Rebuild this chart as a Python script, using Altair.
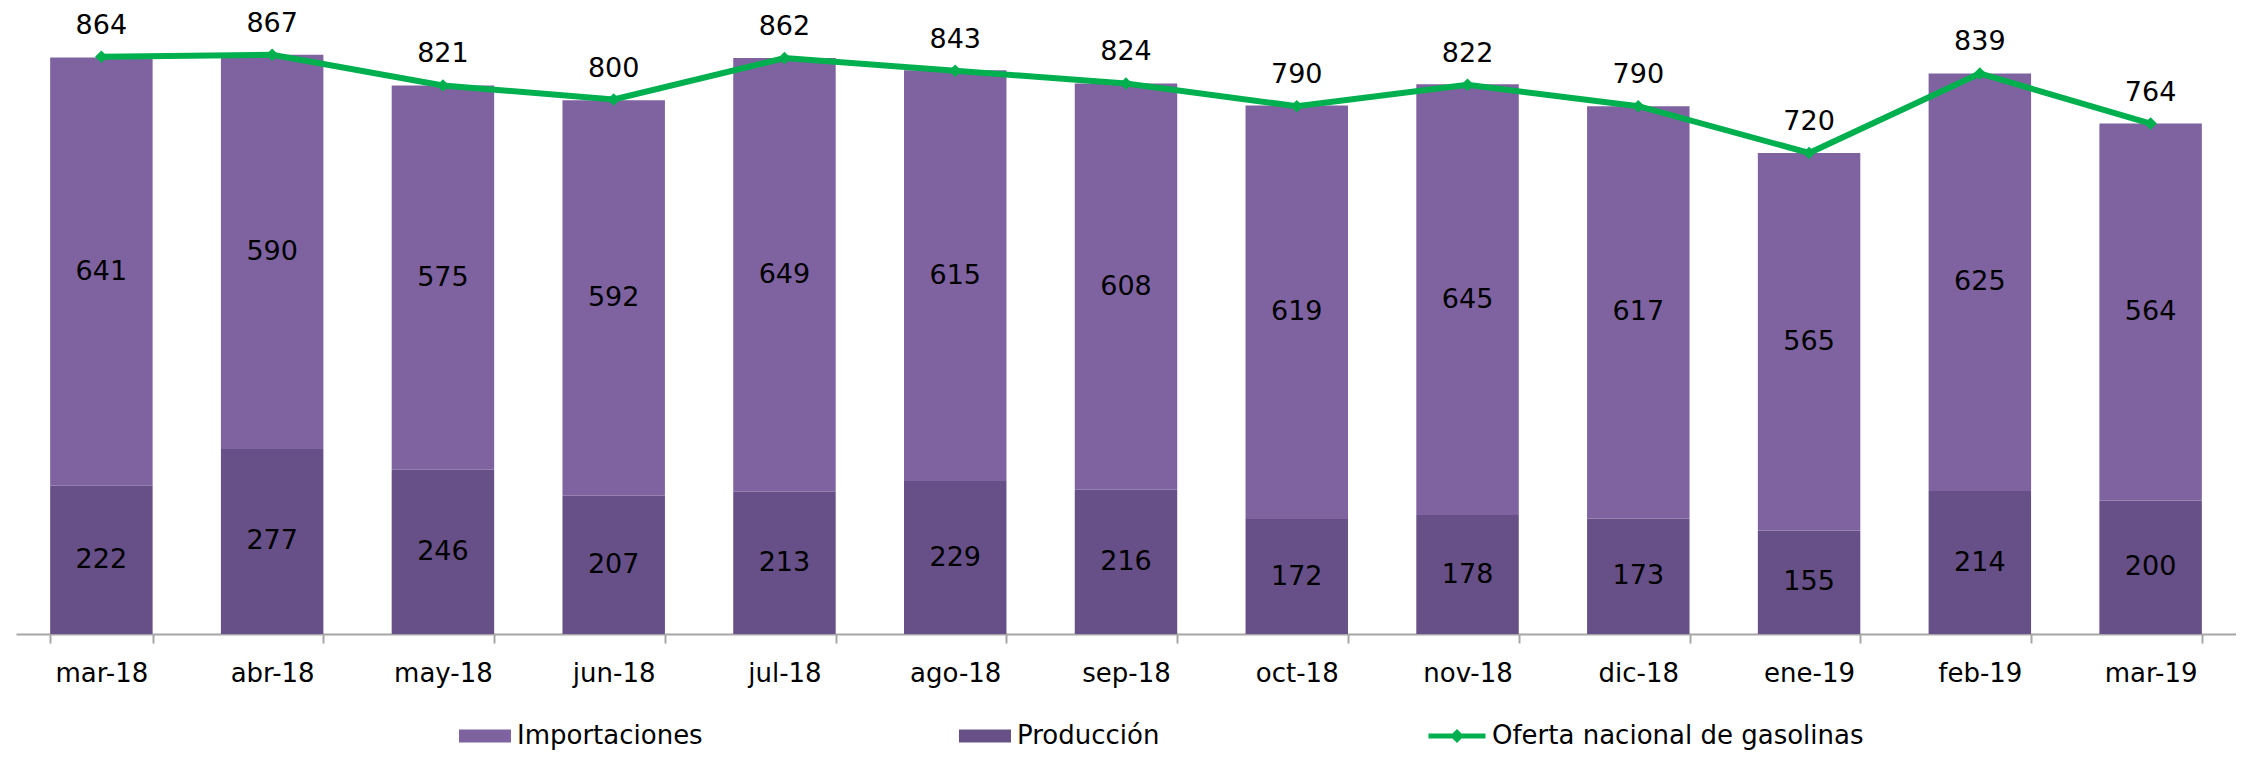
import altair as alt
import pandas as pd

meses = ["mar-18", "abr-18", "may-18", "jun-18", "jul-18", "ago-18", "sep-18",
         "oct-18", "nov-18", "dic-18", "ene-19", "feb-19", "mar-19"]
importaciones = [641, 590, 575, 592, 649, 615, 608, 619, 645, 617, 565, 625, 564]
produccion = [222, 277, 246, 207, 213, 229, 216, 172, 178, 173, 155, 214, 200]
oferta = [864, 867, 821, 800, 862, 843, 824, 790, 822, 790, 720, 839, 764]

series = ["Importaciones", "Producción"]
colores_barras = ["#7F63A0", "#674F87"]
nombre_linea = "Oferta nacional de gasolinas"
color_linea = "#00B04F"

n = len(meses)
bars_df = pd.DataFrame({
    "mes": meses * 2,
    "serie": ["Producción"] * n + ["Importaciones"] * n,
    "orden": [0] * n + [1] * n,
    "valor": produccion + importaciones,
})
line_df = pd.DataFrame({"mes": meses, "valor": oferta, "serie": [nombre_linea] * n})

FONT = "DejaVu Sans"

x = alt.X(
    "mes:N", sort=meses, title=None,
    scale=alt.Scale(paddingInner=0.4, paddingOuter=0.2),
    axis=alt.Axis(labelAngle=0, labelFont=FONT, labelFontSize=26, labelColor="#000000",
                  labelPadding=17, domainColor="#A6A6A6", domainWidth=2,
                  tickColor="#A6A6A6", tickWidth=2, tickSize=9, tickBand="extent",
                  grid=False),
)
y_scale = alt.Scale(domain=[0, 937], nice=False, zero=True)

stacked = (
    alt.Chart(bars_df)
    .transform_stack(stack="valor", groupby=["mes"], as_=["v0", "v1"],
                     sort=[alt.SortField("orden", order="ascending")])
    .transform_calculate(mid="(datum.v0 + datum.v1) / 2")
)

bars = stacked.mark_bar().encode(
    x=x,
    y=alt.Y("v0:Q", scale=y_scale, axis=None),
    y2="v1:Q",
    color=alt.Color(
        "serie:N",
        scale=alt.Scale(domain=series, range=colores_barras),
        legend=alt.Legend(
            title=None, orient="none", legendX=443, legendY=702,
            direction="horizontal", columnPadding=256,
            symbolType="M-1,-0.25L1,-0.25L1,0.25L-1,0.25Z", symbolSize=2704,
            symbolStrokeWidth=0, labelFont=FONT, labelFontSize=26,
            labelColor="#000000", labelOffset=6, labelLimit=0,
        ),
    ),
)

bar_text = stacked.mark_text(font=FONT, fontSize=27, color="#000000", baseline="middle").encode(
    x=x,
    y=alt.Y("mid:Q", scale=y_scale, axis=None),
    text="valor:Q",
)

line = alt.Chart(line_df).mark_line(strokeWidth=6).encode(
    x=x,
    y=alt.Y("valor:Q", scale=y_scale, axis=None),
    stroke=alt.Stroke(
        "serie:N",
        scale=alt.Scale(domain=[nombre_linea], range=[color_linea]),
        legend=alt.Legend(
            title=None, orient="none", legendX=1410, legendY=697,
            direction="horizontal",
            symbolType="M-1,0L1,0M-0.12,0L0,-0.12L0.12,0L0,0.12Z", symbolSize=3249,
            symbolStrokeWidth=5, symbolStrokeColor=color_linea,
            labelFont=FONT, labelFontSize=26,
            labelColor="#000000", labelOffset=4, labelLimit=0,
        ),
    ),
)

points = alt.Chart(line_df).mark_point(shape="diamond", filled=True, size=160,
                                       color=color_linea, opacity=1).encode(
    x=x,
    y=alt.Y("valor:Q", scale=y_scale, axis=None),
)

line_text = alt.Chart(line_df).mark_text(font=FONT, fontSize=27, color="#000000",
                                         baseline="middle", dy=-31).encode(
    x=x,
    y=alt.Y("valor:Q", scale=y_scale, axis=None),
    text="valor:Q",
)

chart = (
    alt.layer(bars, bar_text, line, points, line_text)
    .properties(
        width=2220, height=626,
        autosize=alt.AutoSizeParams(type="none"),
        padding={"left": 8, "top": 0, "right": 0, "bottom": 119},
        background="#FFFFFF",
    )
    .configure_view(stroke=None)
)

chart.save("out.html", embed_options={"renderer": "svg", "actions": False})
